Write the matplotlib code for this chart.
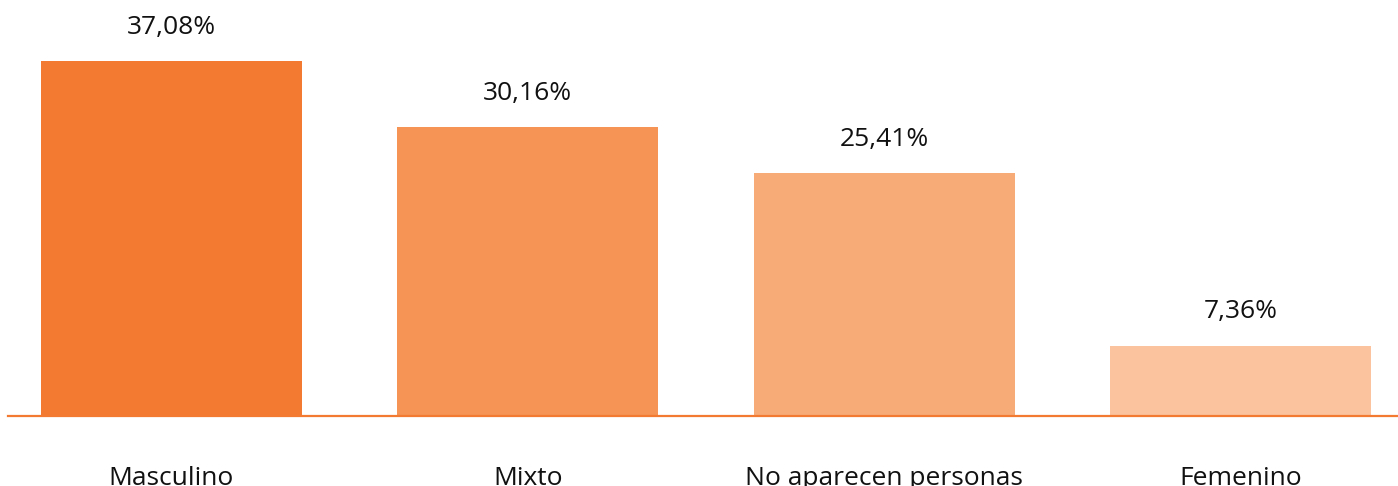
import matplotlib.pyplot as plt

# Data
categorias = ["Masculino", "Mixto", "No aparecen personas", "Femenino"]
valores = [37.08, 30.16, 25.41, 7.36]
etiquetas = ["37,08%", "30,16%", "25,41%", "7,36%"]
colores = ["#F37A31", "#F59455", "#F7AC78", "#FBC49E"]

plt.rcParams['font.family'] = ['Open Sans', 'DejaVu Sans']

fig = plt.figure(figsize=(13.98, 4.86), dpi=100)
ax = fig.add_axes([8 / 1398, 70 / 486, 1390 / 1398, 416 / 486])

x = range(len(categorias))
ax.bar(x, valores, width=0.732, color=colores)

for i, (v, t) in enumerate(zip(valores, etiquetas)):
    ax.annotate(t, (i, v), xytext=(0, 19.5), textcoords="offset points",
                ha="center", va="baseline", fontsize=19, color="#111111")
    ax.annotate(categorias[i], (i, 0), xytext=(0, -50), textcoords="offset points",
                ha="center", va="baseline", fontsize=19, color="#111111",
                annotation_clip=False)

ax.set_xlim(-0.4586, 3.442)
ax.set_ylim(0, 43.45)
for s in ["top", "right", "left"]:
    ax.spines[s].set_visible(False)
ax.spines["bottom"].set_color("#F37A31")
ax.spines["bottom"].set_linewidth(1.6)
ax.set_xticks([])
ax.set_yticks([])

fig.savefig("out.png", dpi=100)
